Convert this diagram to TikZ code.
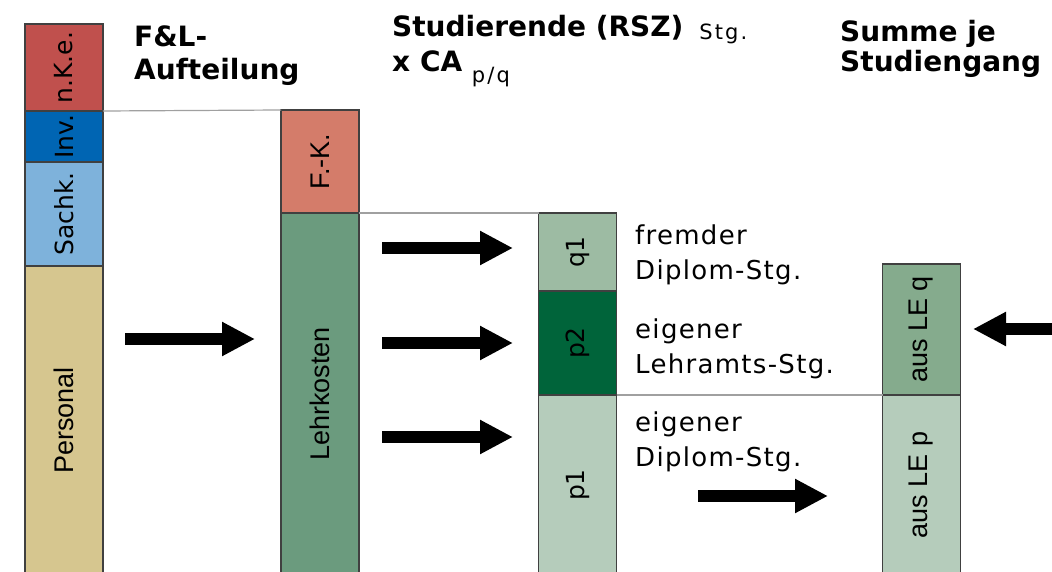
\documentclass[tikz,border=0pt]{standalone}
\usepackage{fontspec}
\setmainfont{DejaVu Sans}
\newfontfamily\arialfont{Liberation Sans}
\newfontfamily\spacedfont{DejaVu Sans}[LetterSpace=5]
\newfontfamily\widefont{DejaVu Sans}[LetterSpace=10]
\usepackage{tikz}
\usetikzlibrary{positioning,arrows.meta}
\definecolor{nkeRed}{HTML}{C0504D}
\definecolor{invBlue}{HTML}{0065B3}
\definecolor{sachBlue}{HTML}{7EB2DB}
\definecolor{persTan}{HTML}{D6C68F}
\definecolor{fkRed}{HTML}{D47C6A}
\definecolor{lehrGreen}{HTML}{6B9B7E}
\definecolor{qGreen}{HTML}{9DBBA3}
\definecolor{pDark}{HTML}{00643A}
\definecolor{pLight}{HTML}{B5CCBB}
\definecolor{lqGreen}{HTML}{85AB8D}
\definecolor{segLine}{HTML}{404040}
\definecolor{linkGray}{HTML}{A0A0A0}
\newcommand{\lowtxt}[2]{\raisebox{#1}{\widefont\mdseries\fontsize{21}{21}\selectfont #2}}
\tikzset{
  seg/.style   = {draw=segLine, line width=1.3pt, rectangle, minimum width=78pt, inner sep=0pt, outer sep=0pt, font=\fontsize{25}{30}\selectfont},
  aseg/.style  = {seg, font=\arialfont\fontsize{27}{32}\selectfont},
  head/.style  = {anchor=base west, align=left, inner sep=0pt, font=\bfseries\fontsize{28}{33}\selectfont},
  note/.style  = {anchor=base west, align=left, inner sep=0pt, font=\spacedfont\fontsize{26}{34.5}\selectfont},
  fat/.style   = {line width=11.5pt, -{Triangle[length=33pt, width=32pt]}},
  link/.style  = {draw=linkGray, line width=1.2pt}
}

\begin{document}
\begin{tikzpicture}[x=1pt, y=-1pt]
\useasboundingbox (0,0) rectangle (1052,572);
\clip (0,0) rectangle (1052,572);

% F&L bar
\node [seg, fill=nkeRed, minimum height=87pt, anchor=north] (nke) at (64,24) {\rotatebox{90}{n.K.e.}};
\node [seg, fill=invBlue, minimum height=51pt, below=0pt of nke] (inv) {\rotatebox{90}{Inv.}};
\node [seg, fill=sachBlue, minimum height=104pt, below=0pt of inv] (sach) {\rotatebox{90}{Sachk.}};
\node [aseg, fill=persTan, minimum height=309pt, below=0pt of sach] (pers) {\rotatebox{90}{Personal}};

% Cost bar
\node [aseg, fill=fkRed, minimum height=103pt, anchor=north] (fk) at (320,110) {\rotatebox{90}{F.-K.}};
\node [aseg, fill=lehrGreen, minimum height=362pt, below=0pt of fk] (lehr) {\rotatebox{90}{Lehrkosten}};

% Student bar
\node [seg, fill=qGreen, minimum height=78pt, anchor=north] (q1) at (577.5,213) {\rotatebox{90}{q1}};
\node [seg, fill=pDark, minimum height=104pt, below=0pt of q1] (p2) {\rotatebox{90}{p2}};
\node [seg, fill=pLight, minimum height=180pt, below=0pt of p2] (p1) {\rotatebox{90}{p1}};

% Sum bar
\node [aseg, fill=lqGreen, minimum height=131pt, anchor=north] (lq) at (921.5,264) {\rotatebox{90}{aus LE q}};
\node [aseg, fill=pLight, minimum height=180pt, below=0pt of lq] (lp) {\rotatebox{90}{aus LE p}};

% Headings (anchored at the last line)
\node [head] (hfl) at (134,80) {F\&L-\\Aufteilung};
\node [head, font=\bfseries\fontsize{28}{35}\selectfont] (hstud) at (392,72) {Studierende (RSZ)\hspace{16pt}\lowtxt{-3pt}{Stg.}\\x CA \lowtxt{-11pt}{p/q}};
\node [head, font=\bfseries\fontsize{28}{30}\selectfont] (hsum) at (840,72) {Summe je\\Studiengang};

% Notes
\node [note] (nq1) at (635,279) {fremder\\Diplom-Stg.};
\node [note] (np2) at (635,373) {eigener\\Lehramts-Stg.};
\node [note] (np1) at (635,466) {eigener\\Diplom-Stg.};

% Links
\draw [link] (nke.south east) -- (fk.north west);
\draw [link] (fk.south east) -- (q1.north west);
\draw [link] (p2.south east) -- (lq.south west);

% Arrows
\coordinate (a1s) at (125,339);
\coordinate (a1e) at (255,339);
\coordinate (a2s) at (382,248);
\coordinate (a2e) at (513,248);
\coordinate (a3s) at (382,343);
\coordinate (a3e) at (513,343);
\coordinate (a4s) at (382,437);
\coordinate (a4e) at (513,437);
\coordinate (a5s) at (698,496);
\coordinate (a5e) at (828,496);
\coordinate (a6s) at (1060,329);
\coordinate (a6e) at (973,329);
\draw [fat] (a1s) -- (a1e);
\draw [fat] (a2s) -- (a2e);
\draw [fat] (a3s) -- (a3e);
\draw [fat] (a4s) -- (a4e);
\draw [fat] (a5s) -- (a5e);
\draw [fat] (a6s) -- (a6e);

\end{tikzpicture}
\end{document}
